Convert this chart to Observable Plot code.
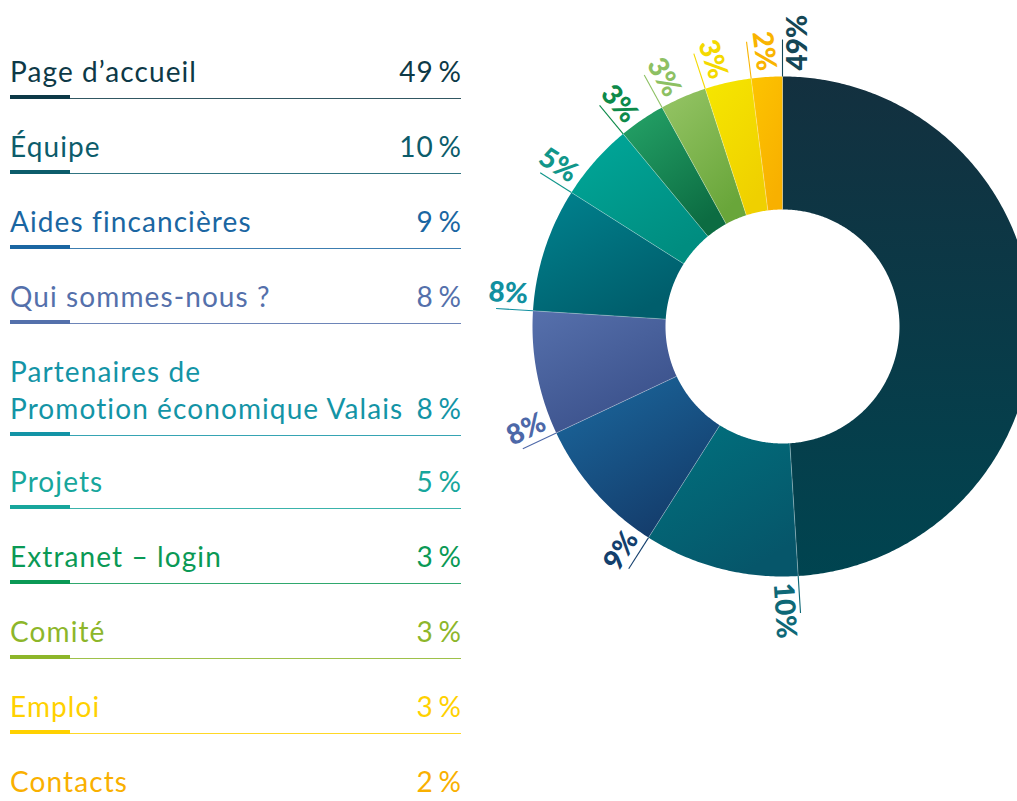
<!DOCTYPE html>
<html><head><meta charset="utf-8">
<script src="https://cdn.jsdelivr.net/npm/d3@7"></script>
<script src="https://cdn.jsdelivr.net/npm/@observablehq/plot@0.6"></script>
<style>
html,body{margin:0;padding:0;background:#fff;overflow:hidden;}
#wrap{position:relative;width:1017px;height:801px;overflow:hidden;}
#legend{position:absolute;left:10px;top:0;width:451px;font-family:Lato,sans-serif;font-weight:400;}
.item{position:absolute;left:0;width:451px;}
.txt{font-size:28px;line-height:37px;letter-spacing:1.1px;white-space:pre;position:relative;}
.val{position:absolute;right:-1px;bottom:0;}
.rule{position:absolute;left:0;width:451px;height:4.5px;}
.thin{position:absolute;left:0;right:0;bottom:0;height:1.3px;}
.thick{position:absolute;left:0;width:60px;top:0;bottom:0;}
#chart{position:absolute;left:470px;top:0;width:547px;}
#chart svg{overflow:hidden;}
</style></head><body>
<div id="wrap"><div id="legend"></div><div id="chart"></div></div>
<script>
const categories = ["Page d’accueil","Équipe","Aides fincancières","Qui sommes-nous\u202F?","Partenaires de\nPromotion économique Valais","Projets","Extranet – login","Comité","Emploi","Contacts"];
const shares = [49,10,9,8,8,5,3,3,3,2];
const legendColors = ["#0d3947","#0c5c6b","#1a66a2","#5470ab","#1394a6","#17a69c","#0a9955","#8db62a","#ffd100","#f9b000"];
const labelColors  = ["#144756","#0e6877","#133f6d","#4d68a8","#1190a0","#10968a","#0d8a4a","#8dc063","#f4d900","#f9b400"];
const fillA = ["#13303f","#00727f","#1b6aa0","#5670ac","#00838f","#00a89a","#25a468","#96c566","#f6e700","#fdc400"];
const fillB = ["#004450","#06566a","#143c6b","#3a508a","#005e6c","#008d80","#0c6c42","#69a63a","#efd000","#f8b000"];

// ---------- legend ----------
const legend = d3.select("#legend");
let yPos = 52.7;
categories.forEach((c, i) => {
  const lines = c.split("\n");
  const item = legend.append("div").attr("class","item").style("top", yPos + "px").style("color", legendColors[i]);
  const txt = item.append("div").attr("class","txt").style("height", lines.length*37 + "px").text(c);
  txt.append("span").attr("class","val").text(shares[i] + "\u2009%");
  const rule = item.append("div").attr("class","rule").style("top", (lines.length*37 + 5.3) + "px");
  rule.append("div").attr("class","thin").style("background", legendColors[i]).style("opacity", 0.85);
  rule.append("div").attr("class","thick").style("background", legendColors[i]);
  yPos += 75 + (lines.length - 1) * 35;
});

// ---------- donut ----------
const TAU = 2 * Math.PI;
const total = d3.sum(shares);
let acc = 0;
const slices = shares.map((v, i) => {
  const a0 = acc / total * TAU; acc += v; const a1 = acc / total * TAU;
  return {i, v, a0, a1};
});
const R0 = 117, R1 = 250;
const pts = [];
slices.forEach(s => {
  const n = Math.max(4, Math.ceil((s.a1 - s.a0) / 0.01));
  const fill = `url(#g${s.i})`;
  for (let k = 0; k <= n; k++) { const a = s.a0 + (s.a1 - s.a0) * k / n; pts.push({id: s.i, x: R1 * Math.sin(a), y: -R1 * Math.cos(a), fill}); }
  for (let k = n; k >= 0; k--) { const a = s.a0 + (s.a1 - s.a0) * k / n; pts.push({id: s.i, x: R0 * Math.sin(a), y: -R0 * Math.cos(a), fill}); }
});
const bounds = slices.map(s => ({x1: R0 * Math.sin(s.a0), y1: -R0 * Math.cos(s.a0), x2: R1 * Math.sin(s.a0), y2: -R1 * Math.cos(s.a0)}));
const leaders = slices.map(s => ({x1: R1 * Math.sin(s.a0), y1: -R1 * Math.cos(s.a0), x2: 287 * Math.sin(s.a0), y2: -287 * Math.cos(s.a0), color: labelColors[s.i]}));
const labels = slices.map(s => {
  const a = s.a0;
  let rot = a * 180 / Math.PI - 90; if (rot > 180) rot -= 360;
  const flip = rot < -90 || rot > 90;
  if (flip) rot += rot > 0 ? -180 : 180;
  const r = 256, off = 16;
  return {text: s.v + "%", x: r * Math.sin(a) + off * Math.cos(a), y: -r * Math.cos(a) + off * Math.sin(a), rot, flip, color: labelColors[s.i]};
});
const textOpts = {x: "x", y: "y", text: "text", rotate: "rot", fill: "color", lineAnchor: "middle", fontSize: 28, fontWeight: 900, fontFamily: "Lato"};
const svg = Plot.plot({
  width: 547, height: 660, margin: 0,
  x: {domain: [-312, 235], range: [0, 547], axis: null},
  y: {domain: [-326, 334], range: [0, 660], axis: null},
  color: {type: "identity"},
  marks: [
    Plot.line(pts, {x: "x", y: "y", z: "id", fill: "fill", stroke: "none", curve: "linear-closed"}),
    Plot.link(bounds, {x1: "x1", y1: "y1", x2: "x2", y2: "y2", stroke: "white", strokeOpacity: 0.3, strokeWidth: 1}),
    Plot.link(leaders, {x1: "x1", y1: "y1", x2: "x2", y2: "y2", stroke: "color", strokeWidth: 1.1}),
    Plot.text(labels.filter(d => !d.flip), {...textOpts, textAnchor: "start"}),
    Plot.text(labels.filter(d => d.flip), {...textOpts, textAnchor: "end"})
  ]
});
const defs = d3.select(svg).insert("defs", ":first-child");
slices.forEach(s => {
  const g = defs.append("linearGradient").attr("id", "g" + s.i)
    .attr("x1", 0).attr("y1", 0).attr("x2", s.i === 0 ? 0 : 0.6).attr("y2", 1);
  g.append("stop").attr("offset", 0).attr("stop-color", fillA[s.i]);
  g.append("stop").attr("offset", 1).attr("stop-color", fillB[s.i]);
});
document.getElementById("chart").appendChild(svg);
</script>
</body></html>
